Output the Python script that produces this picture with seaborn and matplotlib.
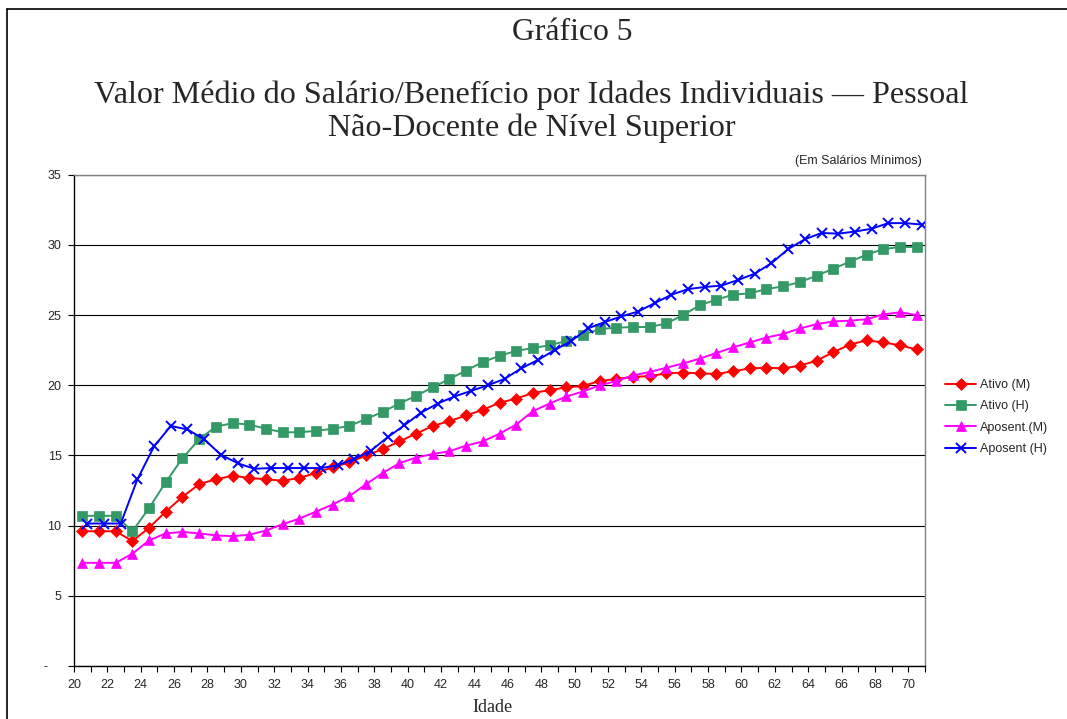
import matplotlib
matplotlib.use('Agg')
import matplotlib.pyplot as plt
from matplotlib.lines import Line2D
import seaborn as sns
import pandas as pd

# Idades individuais (20 a 70 anos)
idades = list(range(20, 71))

ativo_m = [9.6, 9.6, 9.6, 8.9, 9.85, 11.0, 12.05, 12.95, 13.3, 13.55,
           13.4, 13.3, 13.2, 13.4, 13.75, 14.15, 14.5, 15.0, 15.45, 16.0,
           16.55, 17.1, 17.45, 17.85, 18.25, 18.75, 19.05, 19.45, 19.65, 19.85,
           19.95, 20.3, 20.45, 20.6, 20.65, 20.85, 20.9, 20.85, 20.8, 21.0,
           21.2, 21.25, 21.2, 21.4, 21.75, 22.35, 22.9, 23.2, 23.05, 22.85,
           22.55]
ativo_h = [10.7, 10.7, 10.7, 9.6, 11.25, 13.1, 14.8, 16.15, 17.05, 17.3,
           17.2, 16.9, 16.65, 16.65, 16.75, 16.9, 17.1, 17.6, 18.1, 18.7,
           19.25, 19.85, 20.45, 21.05, 21.65, 22.1, 22.45, 22.65, 22.85, 23.15,
           23.6, 24.0, 24.1, 24.15, 24.15, 24.4, 25.0, 25.7, 26.1, 26.45,
           26.55, 26.85, 27.05, 27.35, 27.8, 28.3, 28.8, 29.3, 29.7, 29.85,
           29.85]
aposent_m = [7.35, 7.35, 7.35, 8.0, 8.95, 9.45, 9.55, 9.45, 9.3, 9.25,
             9.35, 9.65, 10.1, 10.5, 11.0, 11.5, 12.1, 12.95, 13.75, 14.45,
             14.85, 15.1, 15.3, 15.7, 16.0, 16.55, 17.2, 18.15, 18.7, 19.2,
             19.55, 20.0, 20.3, 20.7, 20.95, 21.25, 21.55, 21.9, 22.3, 22.7,
             23.05, 23.4, 23.65, 24.05, 24.35, 24.55, 24.6, 24.7, 25.05, 25.2,
             25.0]
aposent_h = [10.15, 10.15, 10.15, 13.3, 15.65, 17.1, 16.85, 16.15, 15.05, 14.45,
             14.05, 14.1, 14.1, 14.1, 14.1, 14.3, 14.75, 15.35, 16.3, 17.15,
             18.05, 18.7, 19.2, 19.6, 20.0, 20.45, 21.2, 21.8, 22.5, 23.15,
             24.05, 24.5, 24.9, 25.25, 25.85, 26.45, 26.85, 27.0, 27.1, 27.5,
             27.95, 28.7, 29.7, 30.4, 30.85, 30.8, 30.95, 31.15, 31.55, 31.55,
             31.45]

series_nomes = ['Ativo (M)', 'Ativo (H)', 'Aposent.(M)', 'Aposent (H)']
series_valores = [ativo_m, ativo_h, aposent_m, aposent_h]

y_ticks = [0, 5, 10, 15, 20, 25, 30, 35]
y_labels = ['-    ', '5', '10', '15', '20', '25', '30', '35']
x_ticks = list(range(20, 71, 2))

# estilo de cada serie: cor, marcador, tamanho, deslocamento no eixo
estilos = {
    'Ativo (M)': dict(color='#FF0000', marker='D', ms=5.8, shift=0.5),
    'Ativo (H)': dict(color='#339966', marker='s', ms=6.8, shift=0.5),
    'Aposent.(M)': dict(color='#FF00FF', marker='^', ms=7.3, shift=0.5),
    'Aposent (H)': dict(color='#0000FF', marker='x', ms=6.8, shift=0.8),
}

df = pd.DataFrame({'idade': idades})
for nome, vals in zip(series_nomes, series_valores):
    df[nome] = vals

sns.set_style("white")
plt.rcParams['font.family'] = ['Liberation Sans', 'DejaVu Sans']

fig = plt.figure(figsize=(10.67, 7.19), dpi=100)
ax = fig.add_axes([74 / 1067, 1 - 666 / 719, (925 - 74) / 1067, (666 - 174.7) / 719])

for nome in series_nomes:
    st = estilos[nome]
    sns.lineplot(x=df['idade'] + st['shift'], y=df[nome], ax=ax, color=st['color'],
                 marker=st['marker'], markersize=st['ms'], markeredgecolor=st['color'],
                 markeredgewidth=1.4 if st['marker'] == 'x' else 0.5,
                 linewidth=1.4, label=nome, legend=False)

ax.set_xlim(20, 71)
ax.set_ylim(0, 35)
ax.set_xticks(x_ticks)
ax.set_xticklabels([str(v) for v in x_ticks], fontsize=9)
ax.set_xticks(range(20, 72), minor=True)
ax.set_yticks(y_ticks)
ax.set_yticklabels(y_labels, fontsize=9)
ax.tick_params(axis='both', which='both', direction='out', length=4, width=0.8,
               color='black', bottom=True, left=True)
ax.tick_params(axis='x', pad=5)
ax.tick_params(axis='y', pad=5)
ax.yaxis.grid(True, color='black', linewidth=0.8)
ax.xaxis.grid(False)
ax.set_axisbelow(True)
for lado in ['left', 'bottom']:
    ax.spines[lado].set_color('black')
    ax.spines[lado].set_linewidth(1.0)
for lado in ['top', 'right']:
    ax.spines[lado].set_color('#808080')
    ax.spines[lado].set_linewidth(1.0)
ax.set_xlabel('')
ax.set_ylabel('')

serif = ['Liberation Serif', 'DejaVu Serif']
fig.text(572 / 1067, 1 - 33 / 719, 'Gráfico 5', family=serif, fontsize=22.8,
         ha='center', va='center')
fig.text(531.5 / 1067, 1 - 95 / 719,
         'Valor Médio do Salário/Benefício por Idades Individuais — Pessoal',
         family=serif, fontsize=23.1, ha='center', va='center')
fig.text(531.5 / 1067, 1 - 128 / 719, 'Não-Docente de Nível Superior',
         family=serif, fontsize=23.1, ha='center', va='center')
fig.text(922 / 1067, 1 - 161 / 719, '(Em Salários Mínimos)', fontsize=9,
         ha='right', va='center')
fig.text(492 / 1067, 1 - 708 / 719, 'Idade', family=serif, fontsize=13,
         ha='center', va='center')

handles, labels = ax.get_legend_handles_labels()
fig.legend(handles, labels, loc='center left', bbox_to_anchor=(945 / 1067, 1 - 417 / 719),
           frameon=False, fontsize=9, handlelength=2.5, handletextpad=0.3,
           labelspacing=0.75, borderpad=0, borderaxespad=0)

# moldura da figura
fig.add_artist(Line2D([7.3 / 1067, 7.3 / 1067], [0, 1 - 9.3 / 719], color='black', lw=1.2))
fig.add_artist(Line2D([7.3 / 1067, 1], [1 - 9.3 / 719, 1 - 9.3 / 719], color='black', lw=1.2))

fig.savefig('out.png', dpi=100)
